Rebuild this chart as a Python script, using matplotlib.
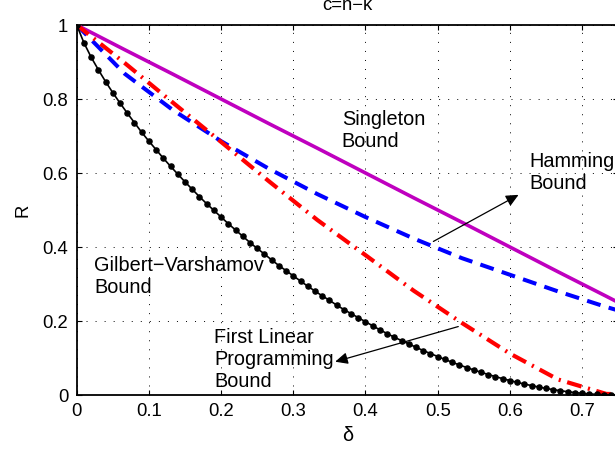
import matplotlib
matplotlib.use("Agg")
import matplotlib.pyplot as plt

plt.rcParams['font.family'] = ['Liberation Sans', 'DejaVu Sans']

# delta sampled at d/15 for singleton, Hamming, LP curves
delta_coarse = [0.0, 1/15, 2/15, 3/15, 4/15, 5/15, 6/15, 7/15, 8/15, 9/15, 10/15, 11/15, 12/15]
singleton = [1.0, 0.933, 0.867, 0.800, 0.733, 0.667, 0.600, 0.533, 0.467, 0.400, 0.333, 0.267, 0.200]
hamming = [1.0, 0.868, 0.770, 0.686, 0.611, 0.543, 0.481, 0.423, 0.370, 0.325, 0.280, 0.238, 0.200]
lp_bound = [1.0, 0.897, 0.790, 0.684, 0.577, 0.473, 0.378, 0.282, 0.195, 0.112, 0.042, 0.003, 0.0]

# Gilbert-Varshamov bound, sampled every 0.01
delta_fine = [i / 100 for i in range(76)]
gv_bound = [1.000, 0.952, 0.913, 0.879, 0.847, 0.817, 0.789, 0.762, 0.736, 0.710,
            0.686, 0.663, 0.640, 0.618, 0.597, 0.576, 0.556, 0.536, 0.517, 0.499,
            0.481, 0.463, 0.446, 0.429, 0.412, 0.396, 0.381, 0.365, 0.350, 0.336,
            0.322, 0.308, 0.294, 0.281, 0.268, 0.256, 0.243, 0.231, 0.220, 0.209,
            0.198, 0.187, 0.176, 0.166, 0.156, 0.147, 0.138, 0.129, 0.120, 0.112,
            0.104, 0.096, 0.0885, 0.0813, 0.0743, 0.0677, 0.0614, 0.0554, 0.0496, 0.0442,
            0.0390, 0.0342, 0.0296, 0.0254, 0.0214, 0.0178, 0.0145, 0.0116, 0.0089, 0.0066,
            0.0046, 0.0030, 0.0016, 0.0007, 0.0002, 0.0]

x_ticks = [0, 0.1, 0.2, 0.3, 0.4, 0.5, 0.6, 0.7]
x_ticklabels = ['0', '0.1', '0.2', '0.3', '0.4', '0.5', '0.6', '0.7']
y_ticks = [0, 0.2, 0.4, 0.6, 0.8, 1.0]
y_ticklabels = ['0', '0.2', '0.4', '0.6', '0.8', '1']

FS = 13.3
TFS = 14.3

fig = plt.figure(figsize=(6.15, 4.5), dpi=100)
ax = fig.add_axes([76.7 / 615, 55 / 450, 541.5 / 615, 370 / 450])

ax.plot(delta_coarse, singleton, color='#BF00BF', lw=2.6, solid_capstyle='butt', zorder=3)
l_h, = ax.plot(delta_coarse, hamming, color='#0000FF', lw=2.9, zorder=3)
l_h.set_dashes([3.5, 2.1])
l_lp, = ax.plot(delta_coarse, lp_bound, color='#FF0000', lw=3.0, zorder=3)
l_lp.set_dashes([3.6, 1.6, 0.5, 1.6])
ax.plot(delta_fine, gv_bound, color='k', lw=1.2, marker='o', markersize=3.7, zorder=4)

ax.set_xlim(0, 0.75)
ax.set_ylim(0, 1)
ax.set_xticks(x_ticks)
ax.set_xticklabels(x_ticklabels)
ax.set_yticks(y_ticks)
ax.set_yticklabels(y_ticklabels)
ax.tick_params(direction='in', top=True, right=True, length=3.6, width=0.8,
               labelsize=FS, pad=6)
for s in ax.spines.values():
    s.set_linewidth(1.3)
ax.grid(True, color='k', linewidth=0.7, linestyle=(0, (1, 8.3)))
ax.set_axisbelow(True)

ax.set_title('c=n\u2212k', fontsize=FS, pad=11)
ax.set_xlabel('\u03b4', fontsize=FS + 1, labelpad=4)
ax.set_ylabel('R', fontsize=FS, labelpad=8)

ax.text(0.367, 0.715, 'Singleton\nBound', fontsize=TFS, ha='left', va='center', linespacing=1.2)
ax.text(0.627, 0.601, 'Hamming\nBound', fontsize=TFS, ha='left', va='center', linespacing=1.2)
ax.text(0.024, 0.319, 'Gilbert\u2212Varshamov\nBound', fontsize=TFS, ha='left', va='center', linespacing=1.2)
ax.text(0.19, 0.095, 'First Linear\nProgramming\nBound', fontsize=TFS, ha='left', va='center', linespacing=1.2)

arrow_kw = dict(arrowstyle='-|>,head_length=0.75,head_width=0.35', color='k', lw=0.9,
                mutation_scale=10, shrinkA=0, shrinkB=0)
ax.annotate('', xy=(0.612, 0.541), xytext=(0.494, 0.415), arrowprops=arrow_kw, zorder=5)
ax.annotate('', xy=(0.358, 0.09), xytext=(0.5285, 0.185), arrowprops=arrow_kw, zorder=5)

fig.savefig('out.png', dpi=100)
